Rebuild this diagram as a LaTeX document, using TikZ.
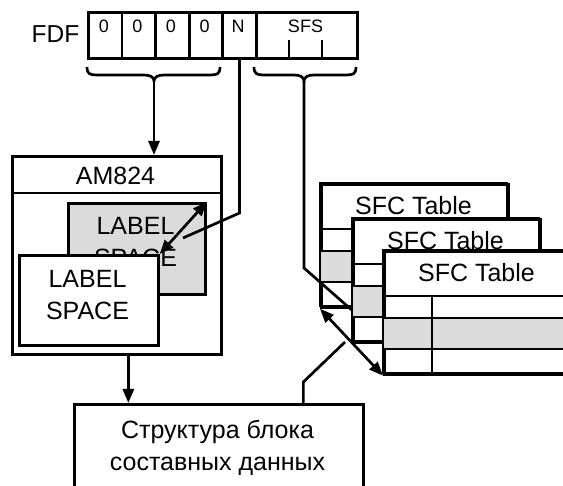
\documentclass[tikz,border=0pt]{standalone}
\usepackage{fontspec}
\setmainfont{Liberation Sans}
\usetikzlibrary{arrows.meta}
\definecolor{lgray}{gray}{0.86}
\newcommand\sfctable[3]{%
  \node[box, fill=white, minimum width=187pt, minimum height=123pt] (#1) at (#2,#3) {};
  \fill[lgray] (#2+1,#3+68) rectangle (#2+186,#3+99);
  \draw (#2,#3+46) -- (#2+187,#3+46);
  \draw (#2,#3+68) -- (#2+187,#3+68);
  \draw (#2,#3+99) -- (#2+187,#3+99);
  \draw (#2+49,#3+46) -- (#2+49,#3+123);
  \draw (#2,#3) rectangle (#2+187,#3+123);
  \node[big] (#1t) at (#2+93.5,#3+23) {SFC Table};
}
\begin{document}
\begin{tikzpicture}[x=1pt,y=-1pt, line width=2.7pt,
  box/.style={draw, inner sep=0pt, anchor=north west},
  tip/.style={-{Triangle[length=14pt,width=11pt]}},
  dtip/.style={{Triangle[length=14pt,width=11pt]}-{Triangle[length=14pt,width=11pt]}},
  reg/.style={font=\fontsize{18}{20}\selectfont, anchor=base},
  big/.style={font=\fontsize{25}{32}\selectfont}]
\useasboundingbox (0,0) rectangle (563,486);
% register
\node[font=\fontsize{24.5}{28}\selectfont, anchor=base] (fdf) at (55.5,43) {FDF};
\node[box, minimum width=33.6pt, minimum height=46pt] (c1) at (87,11) {};
\node[box, minimum width=33.6pt, minimum height=46pt] (c2) at (120.6,11) {};
\node[box, minimum width=33.6pt, minimum height=46pt] (c3) at (154.2,11) {};
\node[box, minimum width=33.6pt, minimum height=46pt] (c4) at (187.8,11) {};
\node[box, minimum width=33.6pt, minimum height=46pt] (cN) at (221.4,11) {};
\node[box, minimum width=101pt, minimum height=46pt] (cS) at (255,11) {};
\node[reg] (t1a) at (103.8,33) {0};
\node[reg] (t2a) at (137.4,33) {0};
\node[reg] (t3a) at (171,33) {0};
\node[reg] (t4a) at (204.6,33) {0};
\node[reg] (tNa) at (238.2,33) {N};
\node[reg] (tSa) at (305.5,33) {SFS};
\draw (289,40) -- (289,57);
\draw (322,40) -- (322,57);
% braces
\coordinate (brL) at (154,81);
\coordinate (brR) at (304,81);
\draw (87,67) .. controls (87,74) and (90,75) .. (97,75) -- (144,75) .. controls (150,75) and (154,77) .. (brL)
  .. controls (154,77) and (158,75) .. (164,75) -- (210,75) .. controls (217,75) and (220,74) .. (220,67);
\draw (254,67) .. controls (254,74) and (257,75) .. (264,75) -- (294,75) .. controls (300,75) and (304,77) .. (brR)
  .. controls (304,77) and (308,75) .. (314,75) -- (346,75) .. controls (353,75) and (356,74) .. (356,67);
% AM824
\node[box, minimum width=209pt, minimum height=198pt] (am) at (11,155) {};
\draw (am.north west |- 0,193) -- (am.north east |- 0,193);
\node[big, anchor=base] (amt) at (115.5,185) {AM824};
\draw[tip] (brL) -- (brL |- am.north);
\node[box, fill=lgray, minimum width=137pt, minimum height=91pt] (gls) at (67,202) {};
\node[big, align=center, anchor=base] (glt) at (135.5,267) {LABEL\\SPACE};
\draw (cN.south) -- (cN.south |- 0,213) -- (183,238);
\node[box, fill=white, minimum width=139pt, minimum height=90pt] (wls) at (18,254) {};
\node[big, align=center, anchor=base] (wlt) at (87.5,320) {LABEL\\SPACE};
\draw[dtip] (gls.north east) -- (wls.north east);
% bottom box
\node[box, minimum width=289pt, minimum height=100pt] (bot) at (73,403) {};
\node[big, align=center, anchor=base] (bott) at (217.5,471) {Структура блока\\составных данных};
\draw[tip] ([xshift=11.5pt]am.south) -- ([xshift=11.5pt]am.south |- bot.north);
% tables
\sfctable{tA}{320}{183}
\draw (brR) -- (brR |- 0,268) -- (362,319);
\sfctable{tB}{352}{218}
\sfctable{tC}{383}{250}
\draw[dtip] (tA.south west) -- (tC.south west);
\draw ([xshift=84.5pt]bot.north) -- ++(0,-21) -- (345,342);
\end{tikzpicture}
\end{document}
